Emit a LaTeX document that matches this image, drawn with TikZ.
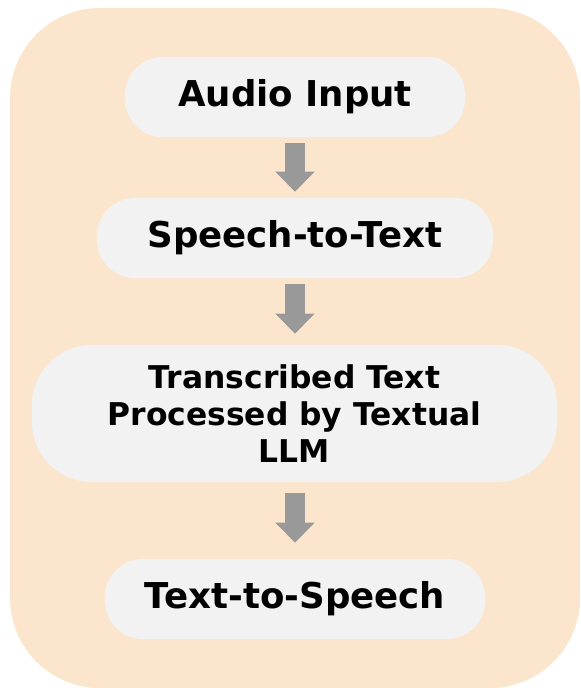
\documentclass[tikz,border=0pt]{standalone}
\usepackage{fontspec}
\setmainfont{DejaVu Sans}
\usetikzlibrary{arrows.meta}
\definecolor{peach}{HTML}{FCE5CD}
\definecolor{boxgray}{HTML}{F2F2F2}
\definecolor{arrowgray}{HTML}{999999}
\begin{document}
\begin{tikzpicture}[x=0.025cm,y=-0.025cm,
  stage/.style={fill=boxgray,rounded corners=0.95cm,minimum height=2cm,inner sep=0pt,align=center,font=\fontsize{25.3}{26.6}\selectfont\bfseries},
  flow/.style={draw=arrowgray,line width=0.5cm,-{Triangle[width=0.95cm,length=0.5cm]}}]
\useasboundingbox (0,0) rectangle (580,688);
\fill[peach,rounded corners=2.25cm] (10,8) rectangle (580,688);

\node[stage,minimum width=8.5cm] (audio) at (295,97) {Audio Input};
\node[stage,minimum width=9.9cm] (stt) at (295,238) {Speech-to-Text};
\node[stage,minimum width=13.125cm,minimum height=3.425cm,rounded corners=1.5cm,font=\fontsize{22.3}{26.6}\selectfont\bfseries] (llm) at (294.5,413.5) {Transcribed Text\\Processed by Textual\\LLM};
\node[stage,minimum width=9.5cm] (tts) at (295,599) {Text-to-Speech};

\draw[flow,shorten <=0.15cm,shorten >=0.15cm] (audio) -- (stt);
\draw[flow,shorten <=0.15cm,shorten >=0.275cm] (stt) -- (stt|-llm.north);
\draw[flow,shorten <=0.275cm,shorten >=0.4cm] (llm.south-|tts) -- (tts);
\end{tikzpicture}
\end{document}
